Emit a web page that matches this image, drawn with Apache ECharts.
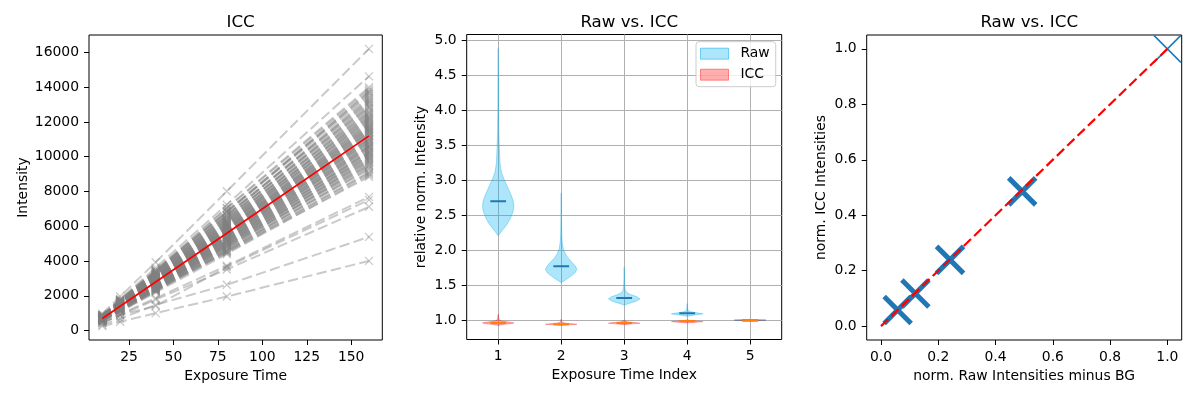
<!DOCTYPE html>
<html><head><meta charset="utf-8">
<script src="https://cdn.jsdelivr.net/npm/echarts@6/dist/echarts.min.js"></script>
<style>html,body{margin:0;padding:0;background:#fff}#chart{width:1200px;height:398px}</style>
</head><body><div id="chart"></div>
<script>
// ---------- Panel 1: ICC intensity vs exposure time ----------
const exposureTimes = [10, 20, 40, 80, 160];
const intensity10  = [560,590,570,600,610,580,630,620,640,610,660,650,670,640,690,680,700,670,720,700,730,710,740,760,730,770,750,780,760,790,780,810,790,830,810,850,830,870,860,890,880,980,910,470,450,440,340,260,
  550,575,585,565,605,595,625,600,645,620,655,635,675,660,685,665,705,690,715,695,735,720,745,725,755,740,775,760,785,770,805,795,815,800,835,825,855,840,875,865];
const intensity20  = [1080,1160,1190,1150,1230,1200,1260,1220,1290,1250,1320,1270,1350,1310,1370,1330,1400,1360,1420,1390,1450,1410,1480,1440,1500,1470,1530,1490,1560,1520,1590,1550,1620,1590,1660,1630,1700,1670,1750,1720,1790,1960,1810,950,900,880,680,510,
  1110,1100,1170,1210,1180,1240,1220,1280,1240,1300,1280,1330,1300,1360,1330,1390,1350,1410,1380,1440,1410,1470,1430,1490,1460,1520,1480,1550,1510,1580,1540,1610,1580,1650,1620,1690,1650,1730,1700,1770];
const intensity40  = [2260,2350,2280,2410,2330,2490,2420,2530,2470,2590,2540,2620,2580,2690,2630,2740,2690,2790,2740,2830,2790,2890,2840,2940,2890,2990,2940,3040,2990,3090,3060,3170,3120,3240,3200,3320,3280,3400,3380,3500,3470,3930,3620,1870,1420,1790,1480,1010,
  2200,2300,2390,2340,2450,2400,2520,2460,2570,2510,2610,2560,2670,2610,2720,2660,2770,2710,2820,2770,2870,2810,2920,2860,2970,2910,3020,2960,3080,3030,3150,3100,3210,3170,3290,3250,3370,3330,3460,3410];
const intensity80  = [4520,4480,4690,4610,4850,4760,4950,4880,5060,4990,5170,5090,5260,5200,5380,5310,5470,5420,5580,5510,5660,5620,5770,5700,5880,5810,5980,5900,6100,6010,6220,6140,6350,6290,6510,6440,6670,6610,6880,6810,7060,8010,7240,3730,3660,3520,2640,1960,
  4410,4590,4580,4800,4720,4930,4860,5040,4960,5150,5080,5240,5190,5360,5290,5450,5390,5560,5490,5650,5600,5750,5680,5850,5790,5960,5890,6080,6030,6200,6130,6330,6270,6480,6420,6650,6590,6850,6780,7030];
const intensity160 = [8850,9120,9260,9430,9540,9690,9780,9910,10020,10130,10240,10330,10470,10560,10640,10790,10860,10980,11040,11170,11230,11360,11420,11580,11630,11770,11840,11960,12080,12140,12310,12460,12570,12760,12880,13070,13210,13390,13620,13780,13990,16200,14620,7690,7520,7120,5390,4010,
  8960,9050,9330,9480,9610,9730,9860,9970,10080,10190,10290,10400,10520,10610,10700,10820,10930,11010,11110,11200,11290,11390,11490,11540,11680,11720,11890,12010,12200,12260,12390,12520,12660,12820,12970,13140,13300,13500,13700,13880];
const fitLine = [700, 1400, 2800, 5600, 11200];
const leftXTicks = [25, 50, 75, 100, 125, 150];
const leftYTicks = [0, 2000, 4000, 6000, 8000, 10000, 12000, 14000, 16000];

// ---------- Panel 2: violins ----------
const violinPositions = [1, 2, 3, 4, 5];
const rawProfileY = [
  [2.21,2.28,2.36,2.45,2.55,2.63,2.72,2.82,2.92,3.02,3.12,3.25,3.45,3.7,4.0,4.4,4.88],
  [1.54,1.58,1.63,1.68,1.73,1.78,1.84,1.9,1.96,2.03,2.12,2.25,2.45,2.65,2.82],
  [1.22,1.25,1.28,1.31,1.34,1.37,1.40,1.44,1.5,1.58,1.67,1.76],
  [1.06,1.08,1.095,1.11,1.125,1.14,1.17,1.2,1.24],
  [0.997,1.0,1.003]
];
const rawProfileW = [
  [0,0.06,0.13,0.19,0.235,0.25,0.235,0.19,0.14,0.09,0.05,0.028,0.018,0.01,0.006,0.004,0],
  [0,0.07,0.15,0.22,0.25,0.22,0.16,0.1,0.06,0.03,0.015,0.008,0.005,0.003,0],
  [0,0.1,0.2,0.25,0.2,0.1,0.04,0.015,0.008,0.005,0.003,0],
  [0,0.12,0.25,0.15,0.05,0.015,0.008,0.004,0],
  [0,0.25,0]
];
const rawMeans = [2.70, 1.775, 1.32, 1.105, 1.0];
const iccProfileY = [
  [0.93,0.945,0.958,0.966,0.975,0.988,1.0,1.03,1.06,1.09],
  [0.93,0.938,0.946,0.954,0.962,0.975,0.99,1.02],
  [0.94,0.952,0.962,0.97,0.98,0.995,1.01],
  [0.965,0.975,0.984,0.992,1.0,1.01],
  [1.0,1.005,1.008,1.012,1.016]
];
const iccProfileW = [
  [0,0.1,0.22,0.25,0.2,0.08,0.025,0.01,0.005,0],
  [0,0.12,0.25,0.18,0.07,0.02,0.008,0],
  [0,0.12,0.25,0.17,0.06,0.015,0],
  [0,0.15,0.25,0.15,0.04,0],
  [0,0.15,0.25,0.12,0]
];
const iccMeans = [0.966, 0.947, 0.964, 0.994, 1.008];
const midXTicks = [1, 2, 3, 4, 5];
const midYTicks = [1.0, 1.5, 2.0, 2.5, 3.0, 3.5, 4.0, 4.5, 5.0];

// ---------- Panel 3: norm raw vs norm ICC ----------
const rawNormMinusBG = [0.058, 0.12, 0.241, 0.493, 1.0];
const iccNormValues  = [0.058, 0.118, 0.239, 0.486, 1.0];
const identityLine = [0, 1];
const rightTicks = [0, 0.2, 0.4, 0.6, 0.8, 1.0];

// ---------- build ----------
const FONT = 'DejaVu Sans';
const FS = 13.9;
const chart = echarts.init(document.getElementById('chart'), null, {renderer: 'canvas'});
const XMARK = 'path://M0,0L10,10M10,0L0,10';

function makeAxis(gridIndex, min, max, ticks, fmt, name, nameGap, labelMargin) {
  return {
    type: 'value', gridIndex, min, max, name, nameGap,
    nameLocation: 'middle',
    nameTextStyle: {color: '#000', fontSize: FS, fontFamily: FONT},
    axisLine: {show: false, onZero: false},
    axisTick: {show: true, inside: false, length: 5, customValues: ticks, lineStyle: {color: '#000', width: 1}},
    axisLabel: {show: true, customValues: ticks, formatter: fmt, color: '#000', fontSize: FS, fontFamily: FONT, margin: labelMargin},
    splitLine: {show: false}
  };
}

const series = [];
const nLines = intensity160.length;
const cols = [intensity10, intensity20, intensity40, intensity80, intensity160];
const GREY = 'rgba(128,128,128,0.42)';
for (let i = 0; i < nLines; i++) {
  series.push({
    type: 'line', xAxisIndex: 0, yAxisIndex: 0, silent: true,
    data: exposureTimes.map((t, k) => [t, cols[k][i]]),
    symbol: XMARK, symbolSize: 8, showSymbol: true,
    lineStyle: {color: GREY, width: 2, type: [10.3, 4.4]},
    itemStyle: {color: 'rgba(0,0,0,0)', borderColor: GREY, borderWidth: 1.3},
    emphasis: {disabled: true}, z: 2
  });
}
series.push({
  type: 'line', xAxisIndex: 0, yAxisIndex: 0, silent: true,
  data: exposureTimes.map((t, k) => [t, fitLine[k]]),
  showSymbol: false, symbol: 'none',
  lineStyle: {color: '#ff0000', width: 1.7}, z: 3
});

function violinSeries(name, profY, profW, means, fill, stroke, meanColor) {
  return {
    type: 'custom', name, xAxisIndex: 1, yAxisIndex: 1, silent: true,
    data: violinPositions.map((p, i) => [p, means[i]]),
    encode: {x: 0, y: 1},
    itemStyle: {color: fill, borderColor: stroke},
    clip: true,
    renderItem(params, api) {
      const i = params.dataIndex;
      const pos = violinPositions[i];
      const ys = profY[i], ws = profW[i];
      const pts = [];
      for (let k = 0; k < ys.length; k++) pts.push(api.coord([pos + ws[k], ys[k]]));
      for (let k = ys.length - 1; k >= 0; k--) pts.push(api.coord([pos - ws[k], ys[k]]));
      const a = api.coord([pos - 0.125, means[i]]);
      const b = api.coord([pos + 0.125, means[i]]);
      return {type: 'group', children: [
        {type: 'polygon', shape: {points: pts}, style: {fill: fill, stroke: stroke, lineWidth: 1}},
        {type: 'line', shape: {x1: a[0], y1: a[1], x2: b[0], y2: b[1]}, style: {stroke: meanColor, lineWidth: 2}}
      ]};
    }
  };
}
const RAW_FILL = 'rgba(0,176,240,0.32)', RAW_EDGE = 'rgba(0,170,235,0.35)';
const ICC_FILL = 'rgba(255,0,0,0.32)', ICC_EDGE = 'rgba(255,0,0,0.3)';
series.push(violinSeries('Raw', rawProfileY, rawProfileW, rawMeans, RAW_FILL, RAW_EDGE, '#1f77b4'));
series.push(violinSeries('ICC', iccProfileY, iccProfileW, iccMeans, ICC_FILL, ICC_EDGE, '#ff7f0e'));

series.push({
  type: 'scatter', xAxisIndex: 2, yAxisIndex: 2, silent: true,
  data: rawNormMinusBG.map((x, i) => ({
    value: [x, iccNormValues[i]],
    itemStyle: {borderWidth: x === 1 ? 1.5 : 5}
  })),
  symbol: XMARK, symbolSize: 27,
  itemStyle: {color: 'rgba(0,0,0,0)', borderColor: '#1f77b4', opacity: 1},
  clip: false,
  z: 2
});
series.push({
  type: 'line', xAxisIndex: 2, yAxisIndex: 2, silent: true,
  data: identityLine.map(v => [v, v]),
  showSymbol: false, symbol: 'none',
  lineStyle: {color: '#ff0000', width: 2.2, type: [10, 4.4]}, z: 3
});

const gridBase = {show: true, borderColor: '#000', borderWidth: 1, backgroundColor: 'transparent', containLabel: false};
const titleBase = {textStyle: {fontSize: 16.67, fontWeight: 'normal', color: '#000', fontFamily: FONT}, textAlign: 'center', top: 9};

const option = {
  animation: false,
  textStyle: {fontFamily: FONT},
  title: [
    Object.assign({text: 'ICC', left: 235.6}, titleBase),
    Object.assign({text: 'Raw vs. ICC', left: 624.2}, titleBase),
    Object.assign({text: 'Raw vs. ICC', left: 1024.2}, titleBase)
  ],
  grid: [
    Object.assign({left: 89, top: 35, width: 293.3, height: 305}, gridBase),
    Object.assign({left: 466.7, top: 34.5, width: 315, height: 305}, gridBase),
    Object.assign({left: 866.7, top: 35, width: 315, height: 305}, gridBase)
  ],
  legend: {
    show: true, orient: 'vertical', left: 696, top: 41.7,
    data: [
      {name: 'Raw', icon: 'rect', itemStyle: {color: RAW_FILL, borderColor: 'rgba(0,170,235,0.5)', borderWidth: 1}},
      {name: 'ICC', icon: 'rect', itemStyle: {color: ICC_FILL, borderColor: 'rgba(255,0,0,0.4)', borderWidth: 1}}
    ],
    itemWidth: 28, itemHeight: 11, itemGap: 5,
    textStyle: {color: '#000', fontSize: FS, fontFamily: FONT, lineHeight: 16, padding: [0, 0, 0, 7]},
    backgroundColor: 'rgba(255,255,255,0.8)', borderColor: '#cccccc', borderWidth: 1, borderRadius: 3,
    padding: [4, 6, 4, 4], selectedMode: false
  },
  xAxis: [
    makeAxis(0, 2.5, 167.5, leftXTicks, v => String(v), 'Exposure Time', 27, 10),
    makeAxis(1, 0.5, 5.5, midXTicks, v => String(v), 'Exposure Time Index', 27, 10),
    makeAxis(2, -0.05, 1.05, rightTicks, v => v.toFixed(1), 'norm. Raw Intensities minus BG', 27, 10)
  ],
  yAxis: [
    makeAxis(0, -537, 16997, leftYTicks, v => String(v), 'Intensity', 59, 10),
    makeAxis(1, 0.729, 5.08, midYTicks, v => v.toFixed(1), 'relative norm. Intensity', 38, 10),
    makeAxis(2, -0.05, 1.05, rightTicks, v => v.toFixed(1), 'norm. ICC Intensities', 38, 10)
  ],
  series
};
option.xAxis[1].splitLine = {show: true, lineStyle: {color: '#b0b0b0', width: 1}};
option.yAxis[1].splitLine = {show: true, lineStyle: {color: '#b0b0b0', width: 1}};
chart.setOption(option);
</script></body></html>
